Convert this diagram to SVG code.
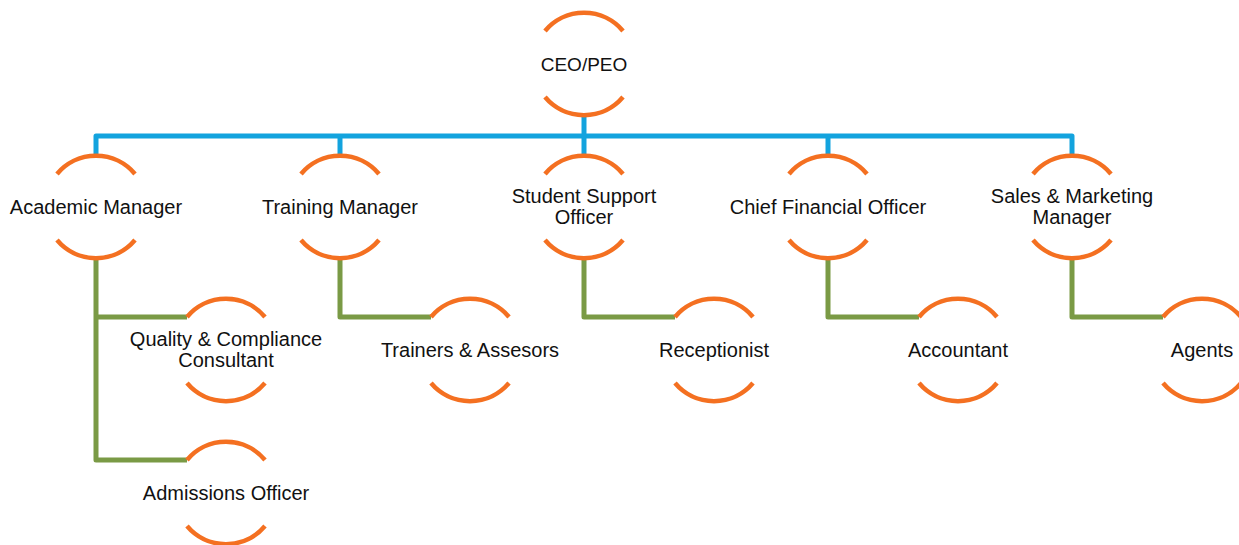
<svg xmlns="http://www.w3.org/2000/svg" width="1239" height="545" viewBox="0 0 1239 545">
<style>
.arc{fill:none;stroke:#F47021;stroke-width:4.5;}
.lbl{font-family:"Liberation Sans",Arial,sans-serif;font-size:20px;fill:#111;text-anchor:middle;}
.blue{fill:none;stroke:#13A3DE;stroke-width:5;stroke-linejoin:round;}
.green{fill:none;stroke:#7A9A45;stroke-width:5;stroke-linejoin:round;}
</style>
<defs>
<g id="ring">
<path class="arc" d="M-39,-33 A51,51 0 0 1 39,-33"/>
<path class="arc" d="M-39,33 A51,51 0 0 0 39,33"/>
</g>
</defs>
<g id="connectors">
<path class="blue" d="M96,156 V136 H1072 V156"/>
<path class="blue" d="M340,136 V156"/>
<path class="blue" d="M584,115 V156"/>
<path class="blue" d="M828,136 V156"/>
<path class="green" d="M96,258 V460 H187"/>
<path class="green" d="M96,317 H187"/>
<path class="green" d="M340,258 V317 H431"/>
<path class="green" d="M584,258 V317 H675"/>
<path class="green" d="M828,258 V317 H919"/>
<path class="green" d="M1072,258 V317 H1163"/>
</g>
<g id="ceo"><use href="#ring" x="584" y="64"/><text class="lbl" x="584" y="71" style="font-size:19px">CEO/PEO</text></g>
<g id="academic-manager"><use href="#ring" x="96" y="207"/><text class="lbl" x="96" y="214">Academic Manager</text></g>
<g id="training-manager"><use href="#ring" x="340" y="207"/><text class="lbl" x="340" y="214">Training Manager</text></g>
<g id="student-support-officer"><use href="#ring" x="584" y="207"/><text class="lbl" x="584" y="203">Student Support</text><text class="lbl" x="584" y="224">Officer</text></g>
<g id="chief-financial-officer"><use href="#ring" x="828" y="207"/><text class="lbl" x="828" y="214">Chief Financial Officer</text></g>
<g id="sales-marketing-manager"><use href="#ring" x="1072" y="207"/><text class="lbl" x="1072" y="203">Sales &amp; Marketing</text><text class="lbl" x="1072" y="224">Manager</text></g>
<g id="quality-compliance-consultant"><use href="#ring" x="226" y="350"/><text class="lbl" x="226" y="346">Quality &amp; Compliance</text><text class="lbl" x="226" y="367">Consultant</text></g>
<g id="admissions-officer"><use href="#ring" x="226" y="493"/><text class="lbl" x="226" y="500">Admissions Officer</text></g>
<g id="trainers-assesors"><use href="#ring" x="470" y="350"/><text class="lbl" x="470" y="357">Trainers &amp; Assesors</text></g>
<g id="receptionist"><use href="#ring" x="714" y="350"/><text class="lbl" x="714" y="357">Receptionist</text></g>
<g id="accountant"><use href="#ring" x="958" y="350"/><text class="lbl" x="958" y="357">Accountant</text></g>
<g id="agents"><use href="#ring" x="1202" y="350"/><text class="lbl" x="1202" y="357">Agents</text></g>
</svg>
